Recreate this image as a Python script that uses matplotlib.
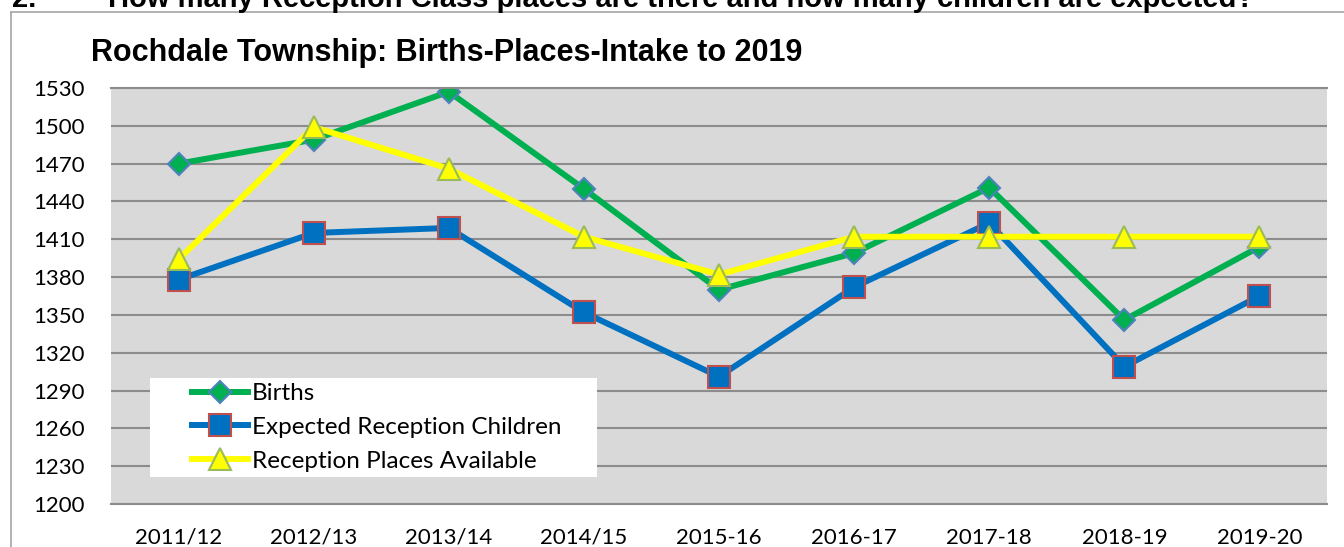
import matplotlib.pyplot as plt
from matplotlib.lines import Line2D
from matplotlib.patches import Rectangle

# data
years = ['2011/12', '2012/13', '2013/14', '2014/15', '2015-16',
         '2016-17', '2017-18', '2018-19', '2019-20']
births = [1470, 1489, 1527, 1450, 1370, 1399, 1451, 1346, 1404]
expected = [1378, 1415, 1419, 1352, 1301, 1372, 1423, 1309, 1365]
places = [1394, 1499, 1466, 1412, 1382, 1412, 1412, 1412, 1412]
yticks = list(range(1200, 1531, 30))

W, H = 1344, 547
tick_font = 'Lato'
head_font = 'Liberation Sans'


def show():
    fig = plt.figure(figsize=(W / 100, H / 100), dpi=100)
    ax = fig.add_axes([111 / W, 1 - 504 / H, 1216 / W, 416 / H])
    ax.set_facecolor('#D9D9D9')

    x = range(len(years))
    ax.plot(x, births, color='#00B050', lw=4.3, marker='D', ms=11.5,
            mfc='#00B050', mec='#4F81BD', mew=1.5, label='Births')
    ax.plot(x, expected, color='#0070C0', lw=4.3, marker='s', ms=15.5,
            mfc='#0070C0', mec='#C0504D', mew=1.5,
            label='Expected Reception Children')
    ax.plot(x, places, color='#FFFF00', lw=4.3, marker='^', ms=16,
            mfc='#FFFF00', mec='#9BBB59', mew=1.5,
            label='Reception Places Available')

    ax.set_xlim(-0.5, len(years) - 0.5)
    ax.set_ylim(1200, 1530)
    ax.set_xticks(list(x))
    ax.set_xticklabels(years)
    ax.set_yticks(yticks)
    ax.grid(axis='y', color='#8C8C8C', lw=1.5)
    ax.set_axisbelow(True)
    for s in ['left', 'right']:
        ax.spines[s].set_visible(False)
    for s in ['top', 'bottom']:
        ax.spines[s].set_color('#8C8C8C')
        ax.spines[s].set_linewidth(1.5)
    ax.tick_params(length=0, labelsize=16)
    ax.tick_params(axis='y', pad=19)
    ax.tick_params(axis='x', pad=17)
    for lab in ax.get_xticklabels() + ax.get_yticklabels():
        lab.set_fontfamily(tick_font)

    # legend on a white box
    ax.add_patch(Rectangle((39 / 1216, 27 / 416), 447 / 1216, 99 / 416,
                           transform=ax.transAxes, facecolor='white',
                           edgecolor='none', zorder=5))
    leg = ax.legend(loc='upper left', bbox_to_anchor=(81 / 1216, 121 / 416),
                    frameon=False, borderpad=0, borderaxespad=0,
                    handlelength=2.3, handletextpad=0.15, labelspacing=0.53,
                    prop={'family': tick_font, 'size': 17.5})
    leg.set_zorder(6)

    fig.text(91 / W, 1 - 61 / H, 'Rochdale Township: Births-Places-Intake to 2019',
             family=head_font, weight='bold', fontsize=22, va='baseline')
    fig.text(12 / W, 1 - 7 / H, '2.', family=head_font, weight='bold',
             fontsize=21, va='baseline')
    fig.text(108 / W, 1 - 7 / H,
             'How many Reception Class places are there and how many children are expected?',
             family=head_font, weight='bold', fontsize=21, va='baseline')

    # outer chart border (left and top)
    fig.add_artist(Line2D([11 / W, 11 / W], [0, 1 - 12 / H], color='#A6A6A6', lw=1.2))
    fig.add_artist(Line2D([11 / W, 1], [1 - 12 / H, 1 - 12 / H], color='#A6A6A6', lw=1.2))

    fig.savefig('out.png', dpi=100)


if __name__ == "__main__":
    show()
